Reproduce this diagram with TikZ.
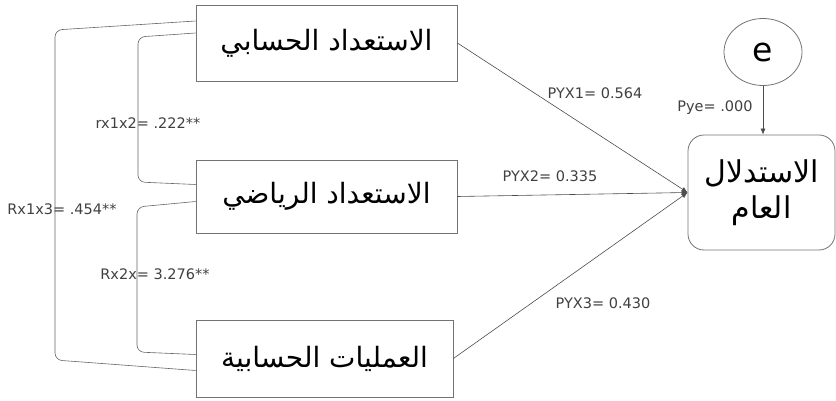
\documentclass[tikz,border=0pt]{standalone}
\usepackage{fontspec}
\setmainfont{DejaVu Sans}
\newfontfamily\arabicfont[Script=Arabic]{DejaVu Sans}
\TeXXeTstate=1
\usetikzlibrary{calc, arrows.meta, shapes.geometric}

\newcommand{\artext}[1]{{\arabicfont\beginR #1\endR}}

\tikzset{
	varbox/.style={draw=black!55, line width=0.8pt, inner sep=0pt, font=\fontsize{28}{32}\selectfont},
	depbox/.style={varbox, rounded corners=16pt, align=center, font=\fontsize{30}{36}\selectfont},
	errnode/.style={draw=black!55, line width=0.8pt, ellipse, minimum width=78pt, minimum height=67pt, inner sep=0pt, font=\fontsize{33}{40}\selectfont},
	pline/.style={draw=black!70, line width=0.6pt, -{Latex[length=6pt, width=5pt]}},
	rline/.style={draw=black!60, line width=0.6pt, rounded corners=7pt},
	lbl/.style={font=\fontsize{14.5}{17}\selectfont, text=black!75, inner sep=1pt}
}

\begin{document}
\begin{tikzpicture}[x=1pt, y=1pt]
				% Размер рисунка
				\useasboundingbox (0,0) rectangle (836,400);
				
				% Независимые переменные
				\node[varbox, minimum width=261pt, minimum height=76pt] (x1) at (326.5,357) {\artext{الاستعداد الحسابي}};
				\node[varbox, minimum width=261pt, minimum height=73pt] (x2) at (326.5,203.5) {\artext{الاستعداد الرياضي}};
				\node[varbox, minimum width=257pt, minimum height=77pt] (x3) at (324.5,41.5) {\artext{العمليات الحسابية}};
				
				% Зависимая переменная и ошибка
				\node[depbox, minimum width=147pt, minimum height=115pt] (y) at (761.5,207.5) {\artext{الاستدلال}\\\artext{العام}};
				\node[errnode] (e) at (763,348) {e};
				
				% Пути
				\draw[pline] (x1.east) -- (y.west);
				\draw[pline] (x2.east) -- (y.west);
				\draw[pline] (x3.east) -- (y.west);
				\draw[pline] (e.south) -- (y.north -| e.south);
				
				% Корреляции
				\draw[rline] ($(x1.west)+(0,22)$) -- (55,370) -- (55,40) -- ($(x3.west)+(0,-12)$);
				\draw[rline] ($(x1.west)+(0,10)$) -- (138,363) -- (138,218) -- ($(x2.west)+(0,12)$);
				\draw[rline] ($(x2.west)+(0,-5)$) -- (137,193) -- (137,48) -- ($(x3.west)+(0,4)$);
				
				% Подписи
				\node[lbl] (p1) at (595,307) {PYX1= 0.564};
				\node[lbl] (p2) at (550,224) {PYX2= 0.335};
				\node[lbl] (p3) at (603,97) {PYX3= 0.430};
				\node[lbl] (pe) at (715,292) {Pye= .000};
				\node[lbl] (r12) at (148,277) {rx1x2= .222**};
				\node[lbl] (r13) at (62,191) {Rx1x3= .454**};
				\node[lbl] (r23) at (155,126) {Rx2x= 3.276**};
			\end{tikzpicture}
\end{document}
